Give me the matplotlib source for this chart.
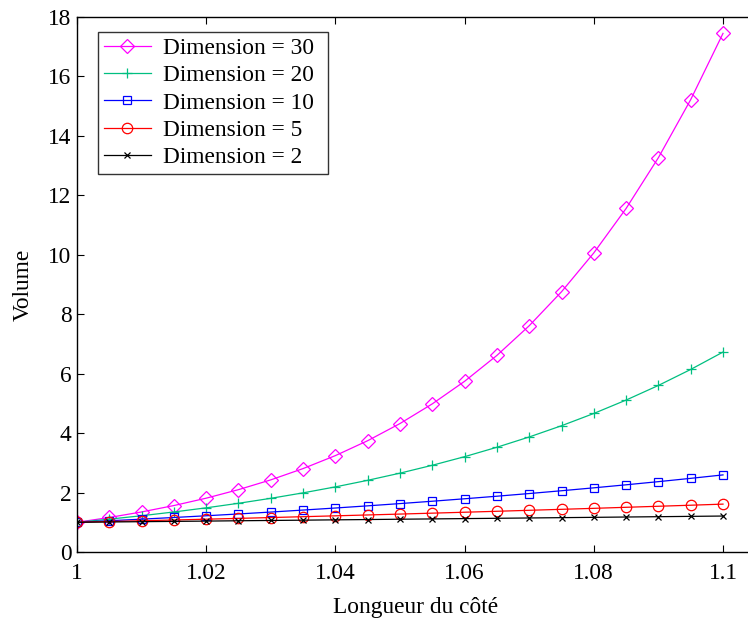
import matplotlib
matplotlib.use("Agg")
import matplotlib.pyplot as plt

plt.rcParams['font.family'] = ['Liberation Serif', 'DejaVu Serif']
plt.rcParams['mathtext.fontset'] = 'stix'

x = [1.000, 1.005, 1.010, 1.015, 1.020, 1.025, 1.030, 1.035, 1.040, 1.045, 1.050,
     1.055, 1.060, 1.065, 1.070, 1.075, 1.080, 1.085, 1.090, 1.095, 1.100]

vol_d30 = [1.0, 1.161, 1.348, 1.563, 1.811, 2.098, 2.427, 2.807, 3.243, 3.745, 4.322,
           4.984, 5.743, 6.614, 7.612, 8.755, 10.063, 11.558, 13.268, 15.220, 17.449]
vol_d20 = [1.0, 1.105, 1.220, 1.347, 1.486, 1.639, 1.806, 1.990, 2.191, 2.412, 2.653,
           2.918, 3.207, 3.524, 3.870, 4.248, 4.661, 5.112, 5.604, 6.142, 6.727]
vol_d10 = [1.0, 1.051, 1.105, 1.161, 1.219, 1.280, 1.344, 1.411, 1.480, 1.553, 1.629,
           1.708, 1.791, 1.877, 1.967, 2.061, 2.159, 2.261, 2.367, 2.478, 2.594]
vol_d5 = [1.0, 1.025, 1.051, 1.077, 1.104, 1.131, 1.159, 1.188, 1.217, 1.246, 1.276,
          1.307, 1.338, 1.370, 1.403, 1.436, 1.469, 1.504, 1.539, 1.574, 1.611]
vol_d2 = [1.0, 1.010, 1.020, 1.030, 1.040, 1.051, 1.061, 1.071, 1.082, 1.092, 1.103,
          1.113, 1.124, 1.134, 1.145, 1.156, 1.166, 1.177, 1.188, 1.199, 1.210]

labels = ["Dimension = 30", "Dimension = 20", "Dimension = 10", "Dimension = 5", "Dimension = 2"]
xticks = [1, 1.02, 1.04, 1.06, 1.08, 1.1]
xticklabels = ["1", "1.02", "1.04", "1.06", "1.08", "1.1"]
yticks = [0, 2, 4, 6, 8, 10, 12, 14, 16, 18]

FS = 16.8
RIGHT = 765.0
W = RIGHT - 77
fig = plt.figure(figsize=(7.48, 6.24), dpi=100)
ax = fig.add_axes([77/748, 1-552/624, W/748, (552-17)/624])

styles = [
    dict(color=(1, 0, 1), marker='D', markersize=7.5, mfc='none'),
    dict(color=(0, 0.75, 0.5), marker='+', markersize=7.5, mfc='none'),
    dict(color=(0, 0, 1), marker='s', markersize=6, mfc='none'),
    dict(color=(1, 0, 0), marker='o', markersize=7.5, mfc='none'),
    dict(color=(0, 0, 0), marker='x', markersize=5, mfc='none'),
]
series = [vol_d30, vol_d20, vol_d10, vol_d5, vol_d2]
for ys, lab, st in zip(series, labels, styles):
    ax.plot(x, ys, label=lab, linewidth=0.9, markeredgewidth=0.9, **st)

ax.set_xlim(1, 1.1 + (RIGHT - 723) / 6460)
ax.set_ylim(0, 18)
ax.set_xticks(xticks)
ax.set_xticklabels(xticklabels)
ax.set_yticks(yticks)
ax.tick_params(direction='in', top=True, right=False, labelsize=FS, length=5)
ax.tick_params(axis='y', pad=4)
ax.tick_params(axis='x', pad=8)
ax.spines['right'].set_visible(False)
for s in ax.spines.values():
    s.set_linewidth(1.0)

ax.set_xlabel("Longueur du côté", fontsize=FS)
ax.xaxis.set_label_coords((415.5 - 77) / W, -(607 - 552) / 535, transform=ax.transAxes)
ax.xaxis.label.set_va('center')
ax.set_ylabel("Volume", fontsize=FS, labelpad=10)

leg = ax.legend(loc='upper left',
                bbox_to_anchor=(21/W, (552-172)/535, 230/W, 140/535),
                mode='expand', fontsize=FS,
                frameon=True, fancybox=False, edgecolor='black', borderaxespad=0,
                handlelength=2.0, labelspacing=0.25, handletextpad=0.55, borderpad=0.25)
leg.get_frame().set_linewidth(1.0)

fig.savefig("out.png", dpi=100)
